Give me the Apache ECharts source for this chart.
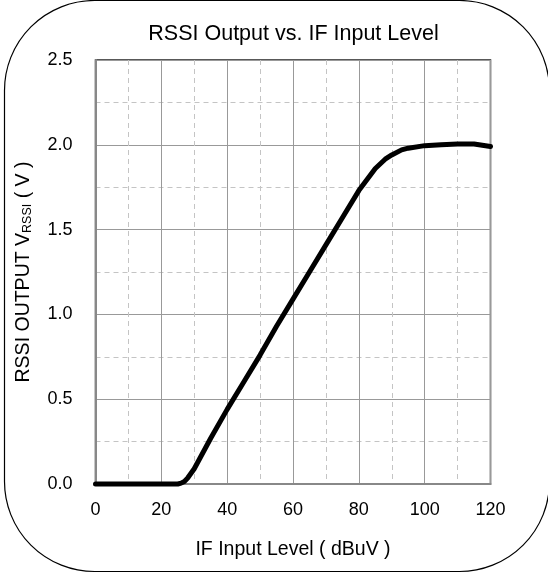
<!DOCTYPE html>
<html>
<head>
<meta charset="utf-8">
<script src="https://cdn.jsdelivr.net/npm/echarts@6/dist/echarts.min.js"></script>
<style>
  html, body { margin: 0; padding: 0; background: #fff; }
  #chart { width: 548px; height: 573px; }
</style>
</head>
<body>
<div id="chart"></div>
<script>
// Data
const inputLevel = [0, 10, 20, 25, 26, 27, 28, 30, 35, 40, 45, 50, 55, 60, 65, 70, 75, 80, 85, 88, 90, 93, 95, 100, 105, 110, 115, 120];
const rssiOutput = [0, 0, 0, 0, 0.005, 0.015, 0.035, 0.09, 0.27, 0.44, 0.60, 0.76, 0.93, 1.09, 1.25, 1.41, 1.57, 1.73, 1.86, 1.915, 1.94, 1.97, 1.98, 1.995, 2.0, 2.005, 2.005, 1.99];
const xTicks = [0, 20, 40, 60, 80, 100, 120];
const yTicks = [0, 0.5, 1.0, 1.5, 2.0, 2.5];

const FONT = "'Liberation Sans', Arial, sans-serif";
const chart = echarts.init(document.getElementById('chart'), null, { renderer: 'canvas' });

const points = inputLevel.map((x, i) => [x, rssiOutput[i]]);

chart.setOption({
  animation: false,
  backgroundColor: '#fff',
  title: {
    text: 'RSSI Output vs. IF Input Level',
    left: 288.5,
    top: 18,
    textAlign: 'center',
    textStyle: { fontFamily: FONT, fontSize: 21.5, fontWeight: 'normal', color: '#000' }
  },
  graphic: [{
    type: 'rect',
    shape: { x: 4.5, y: 0.5, width: 545, height: 571, r: 90 },
    style: { fill: 'none', stroke: '#000', lineWidth: 1.2 },
    silent: true,
    z: -1
  }],
  grid: {
    left: 95.5, right: 57.5, top: 60, bottom: 89,
    show: true, borderColor: '#222', borderWidth: 1.5, backgroundColor: 'transparent'
  },
  xAxis: {
    type: 'value',
    min: xTicks[0], max: xTicks[xTicks.length - 1], interval: 20,
    name: 'IF Input Level ( dBuV )',
    nameLocation: 'middle',
    nameGap: 56,
    nameTextStyle: { fontFamily: FONT, fontSize: 19.5, color: '#000' },
    axisLine: { show: true, lineStyle: { color: '#888', width: 2 } },
    axisTick: { show: false },
    axisLabel: { fontFamily: FONT, fontSize: 18, color: '#000', margin: 17,
      formatter: v => xTicks.includes(v) ? String(v) : '' },
    splitLine: { show: true, lineStyle: { color: '#999', width: 1 } },
    minorTick: { show: false, splitNumber: 2 },
    minorSplitLine: { show: true, lineStyle: { color: '#c4c4c4', width: 1, type: [5, 4] } }
  },
  yAxis: {
    type: 'value',
    min: yTicks[0], max: yTicks[yTicks.length - 1], interval: 0.5,
    name: 'RSSI OUTPUT V{sub|RSSI} ( V )',
    nameLocation: 'middle',
    nameRotate: 90,
    nameGap: 61,
    nameTextStyle: {
      fontFamily: FONT, fontSize: 19.5, color: '#000', lineHeight: 22,
      rich: {
        sub: { fontFamily: FONT, fontSize: 12.5, color: '#000', lineHeight: 13, verticalAlign: 'bottom' }
      }
    },
    axisLine: { show: true, lineStyle: { color: '#888', width: 2 } },
    axisTick: { show: false },
    axisLabel: { fontFamily: FONT, fontSize: 18, color: '#000', margin: 23,
      formatter: v => v.toFixed(1) },
    splitLine: { show: true, lineStyle: { color: '#999', width: 1 } },
    minorTick: { show: false, splitNumber: 2 },
    minorSplitLine: { show: true, lineStyle: { color: '#c4c4c4', width: 1, type: [5, 4] } }
  },
  series: [{
    type: 'line',
    data: points,
    showSymbol: false,
    symbol: 'none',
    smooth: false,
    clip: false,
    lineStyle: { color: '#000', width: 5, cap: 'round', join: 'round' },
    z: 5
  }]
});
</script>
</body>
</html>
